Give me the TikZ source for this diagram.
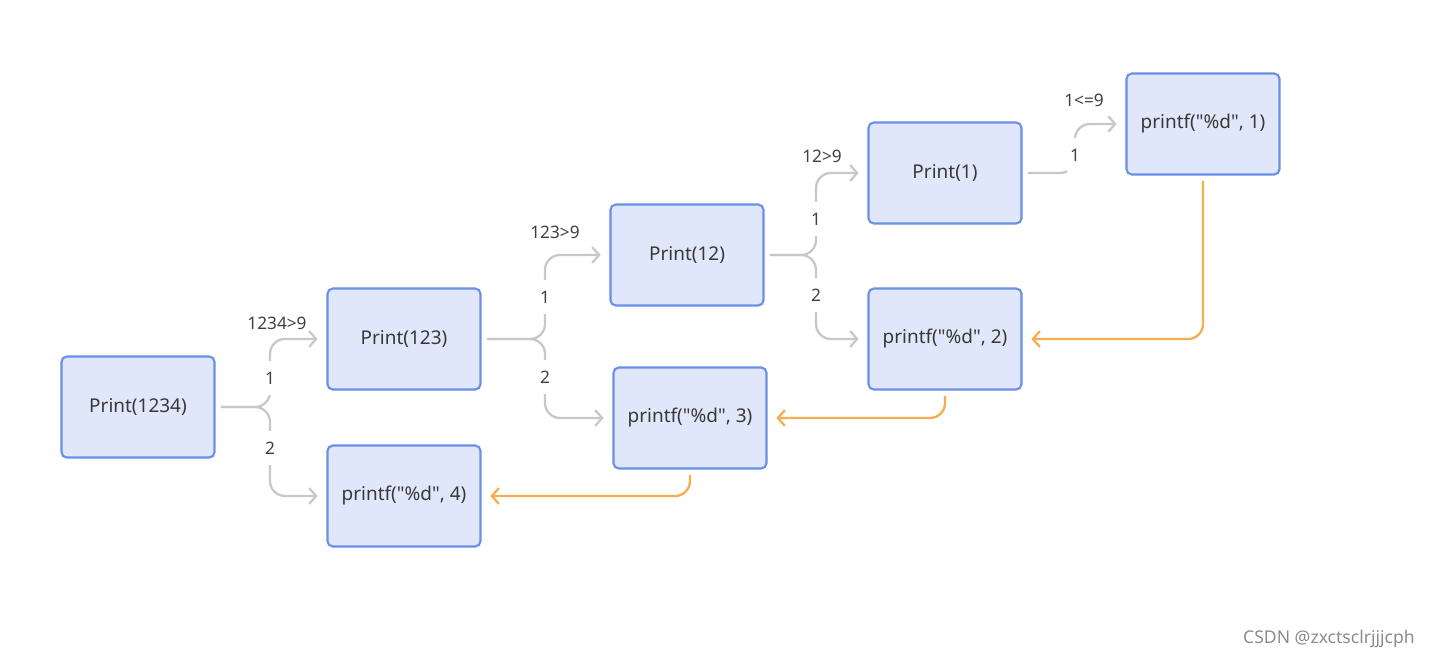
\documentclass[tikz,border=0pt]{standalone}
\usepackage{fontspec}
\setmainfont{Noto Sans}
\usetikzlibrary{arrows.meta}
\definecolor{boxfill}{HTML}{E1E7FB}
\definecolor{boxline}{HTML}{6A8FE6}
\definecolor{callgray}{HTML}{C8C8C8}
\definecolor{retorange}{HTML}{F4AE4E}
\tikzset{
  frame/.style={draw=boxline, fill=boxfill, line width=1.2pt, rounded corners=3pt,
    minimum width=3.06cm, minimum height=2.02cm, inner sep=0pt,
    font=\fontsize{10.8}{12}\selectfont, text=black!78},
  callarrow/.style={draw=callgray, line width=1.3pt, rounded corners=0.3cm,
    -{Straight Barb[length=4pt, width=9pt, line width=1.3pt]}, shorten >=5pt, shorten <=3pt},
  retarrow/.style={draw=retorange, line width=1.3pt, rounded corners=0.3cm,
    -{Straight Barb[length=4pt, width=9pt, line width=1.3pt]}, shorten >=5pt, shorten <=3pt},
  branch/.style={fill=white, inner xsep=2pt, inner ysep=6pt,
    font=\fontsize{9.8}{11}\selectfont, text=black!75},
  cond/.style={font=\fontsize{9.8}{11}\selectfont, text=black!75}
}
\begin{document}
\begin{tikzpicture}[x=0.02cm, y=-0.02cm]
  \useasboundingbox (0,0) rectangle (1434,659);
  \node[frame] (p1234) at (138,407) {Print(1234)};
  \node[frame] (p123) at (404,339) {Print(123)};
  \node[frame] (f4) at (404,496) {printf(\textquotedbl\%d\textquotedbl, 4)};
  \node[frame] (p12) at (687,255) {Print(12)};
  \node[frame] (f3) at (690,418) {printf(\textquotedbl\%d\textquotedbl, 3)};
  \node[frame] (p1) at (945,173) {Print(1)};
  \node[frame] (f2) at (945,339) {printf(\textquotedbl\%d\textquotedbl, 2)};
  \node[frame] (f1) at (1203,124) {printf(\textquotedbl\%d\textquotedbl, 1)};

  \draw[callarrow] (p1234.east) -- (270,407) |- (p123.west);
  \draw[callarrow] (p1234.east) -- (270,407) |- (f4.west);
  \draw[callarrow] (p123.east) -- (545,339) |- (p12.west);
  \draw[callarrow] (p123.east) -- (545,339) |- (f3.west);
  \draw[callarrow] (p12.east) -- (816,255) |- (p1.west);
  \draw[callarrow] (p12.east) -- (816,255) |- (f2.west);
  \draw[callarrow] (p1.east) -- (1075,173) |- (f1.west);

  \node[branch] (b1) at (270,378) {1};
  \node[branch] (b2) at (270,448) {2};
  \node[branch] (b3) at (545,297) {1};
  \node[branch] (b4) at (545,377) {2};
  \node[branch] (b5) at (816,219) {1};
  \node[branch] (b6) at (816,295) {2};
  \node[branch] (b7) at (1075,155) {1};

  \node[cond] (c1) at (277,323) {1234>9};
  \node[cond] (c2) at (555,232) {123>9};
  \node[cond] (c3) at (822,156) {12>9};
  \node[cond] (c4) at (1084,100) {1<=9};

  \draw[retarrow] (f1.south) |- (f2.east);
  \draw[retarrow] (f2.south) |- (f3.east);
  \draw[retarrow] (f3.south) |- (f4.east);

  \node[font=\fontsize{10}{12}\selectfont, text=black!45] (mark) at (1329,639) {CSDN @zxctsclrjjjcph};
\end{tikzpicture}
\end{document}
